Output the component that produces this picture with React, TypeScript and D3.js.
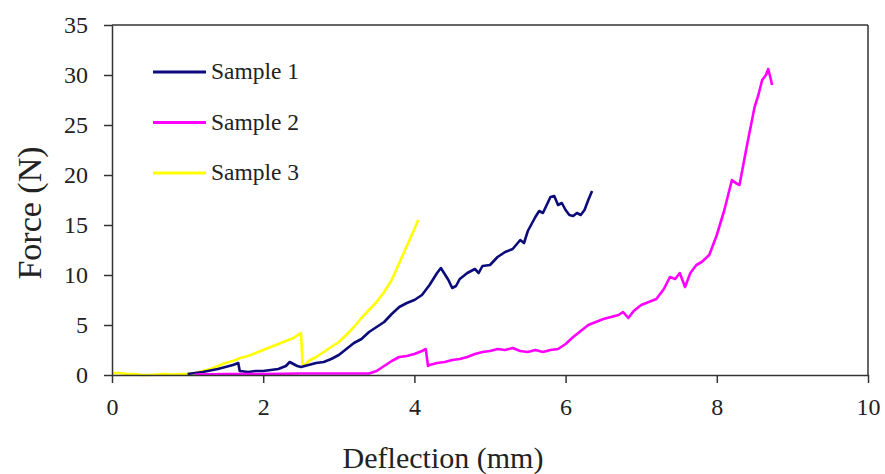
import { useEffect, useRef } from "react";
import * as d3 from "d3";

const sampleNames = ["Sample 1", "Sample 2", "Sample 3"];
const sampleColors = ["#0b0b7c", "#ff00ff", "#ffff00"];

const s1x = [1.0, 1.2, 1.4, 1.5, 1.6, 1.67, 1.69, 1.8, 1.9, 2.0, 2.1, 2.2, 2.3, 2.35, 2.4, 2.45, 2.5, 2.6, 2.7, 2.8, 2.9, 3.0, 3.1, 3.2, 3.3, 3.4, 3.5, 3.6, 3.7, 3.8, 3.9, 4.0, 4.1, 4.2, 4.3, 4.35, 4.4, 4.45, 4.5, 4.55, 4.6, 4.7, 4.8, 4.85, 4.9, 5.0, 5.1, 5.2, 5.3, 5.4, 5.45, 5.5, 5.6, 5.65, 5.7, 5.8, 5.85, 5.9, 5.95, 6.0, 6.05, 6.1, 6.15, 6.2, 6.25, 6.3, 6.35];
const s1y = [0.1, 0.3, 0.6, 0.8, 1.0, 1.2, 0.4, 0.3, 0.4, 0.4, 0.5, 0.6, 0.9, 1.3, 1.1, 0.9, 0.8, 1.0, 1.2, 1.3, 1.6, 2.0, 2.6, 3.2, 3.6, 4.3, 4.8, 5.3, 6.1, 6.8, 7.2, 7.5, 8.0, 9.0, 10.2, 10.7, 10.1, 9.5, 8.7, 8.9, 9.6, 10.2, 10.6, 10.2, 10.9, 11.0, 11.8, 12.3, 12.6, 13.5, 13.2, 14.4, 15.8, 16.4, 16.2, 17.8, 17.9, 17.0, 17.2, 16.5, 16.0, 15.9, 16.2, 16.0, 16.5, 17.5, 18.4];

const s2x = [1.1, 1.5, 2.0, 2.5, 3.0, 3.4, 3.5, 3.6, 3.7, 3.8, 3.9, 4.0, 4.1, 4.15, 4.18, 4.2, 4.3, 4.4, 4.5, 4.6, 4.7, 4.8, 4.9, 5.0, 5.1, 5.2, 5.3, 5.4, 5.5, 5.6, 5.7, 5.8, 5.9, 6.0, 6.1, 6.2, 6.3, 6.4, 6.5, 6.6, 6.7, 6.76, 6.83, 6.9, 7.0, 7.1, 7.2, 7.3, 7.38, 7.45, 7.51, 7.58, 7.65, 7.73, 7.8, 7.9, 8.0, 8.1, 8.2, 8.25, 8.3, 8.4, 8.5, 8.55, 8.6, 8.65, 8.68, 8.72, 8.73];
const s2y = [0.05, 0.1, 0.1, 0.15, 0.15, 0.15, 0.4, 0.9, 1.4, 1.8, 1.9, 2.1, 2.4, 2.6, 0.9, 1.0, 1.2, 1.3, 1.5, 1.6, 1.8, 2.1, 2.3, 2.4, 2.6, 2.5, 2.7, 2.4, 2.3, 2.5, 2.3, 2.5, 2.6, 3.1, 3.8, 4.4, 5.0, 5.3, 5.6, 5.8, 6.0, 6.3, 5.7, 6.4, 7.0, 7.3, 7.6, 8.6, 9.8, 9.6, 10.2, 8.8, 10.2, 11.0, 11.3, 12.0, 14.0, 16.5, 19.5, 19.2, 19.0, 23.0, 26.8, 28.0, 29.5, 30.0, 30.6, 29.4, 29.0];

const s3x = [0, 0.1, 0.2, 0.3, 0.4, 0.5, 0.6, 0.7, 0.8, 0.9, 1.0, 1.1, 1.2, 1.3, 1.4, 1.5, 1.6, 1.7, 1.8, 1.9, 2.0, 2.1, 2.2, 2.3, 2.4, 2.5, 2.52, 2.55, 2.6, 2.7, 2.8, 2.9, 3.0, 3.1, 3.2, 3.3, 3.4, 3.5, 3.6, 3.7, 3.8, 3.9, 4.0, 4.05];
const s3y = [0.2, 0.2, 0.1, 0.1, 0.0, 0.0, 0.05, 0.1, 0.05, 0.1, 0.1, 0.2, 0.4, 0.6, 0.9, 1.2, 1.4, 1.7, 1.9, 2.2, 2.5, 2.8, 3.1, 3.4, 3.7, 4.2, 1.1, 1.0, 1.4, 1.8, 2.3, 2.8, 3.3, 4.0, 4.8, 5.7, 6.5, 7.3, 8.3, 9.5, 11.2, 12.9, 14.6, 15.5];

const xTicks = [0, 2, 4, 6, 8, 10];
const yTicks = [0, 5, 10, 15, 20, 25, 30, 35];

const FONT = "'Liberation Serif', 'Times New Roman', serif";

export default function App() {
  const ref = useRef<SVGSVGElement>(null);

  useEffect(() => {
    const left = 112, right = 868, top = 25, bottom = 375;
    const svg = d3.select(ref.current);
    svg.selectAll("*").remove();

    const x = d3.scaleLinear().domain([0, 10]).range([left, right]);
    const y = d3.scaleLinear().domain([0, 35]).range([bottom, top]);

    // frame on top and right
    svg.append("line").attr("x1", left).attr("x2", right).attr("y1", top).attr("y2", top)
      .attr("stroke", "#333").attr("stroke-width", 1.5);
    svg.append("line").attr("x1", right).attr("x2", right).attr("y1", top).attr("y2", bottom)
      .attr("stroke", "#333").attr("stroke-width", 1.5);

    const series = [
      { xs: s1x, ys: s1y },
      { xs: s2x, ys: s2y },
      { xs: s3x, ys: s3y },
    ];
    const line = d3.line<[number, number]>().x((d) => x(d[0])).y((d) => y(d[1]));
    // draw yellow first so the others sit on top
    [2, 0, 1].forEach((i) => {
      const pts = series[i].xs.map((v, k) => [v, series[i].ys[k]] as [number, number]);
      svg.append("path")
        .datum(pts)
        .attr("fill", "none")
        .attr("stroke", sampleColors[i])
        .attr("stroke-width", 2.6)
        .attr("stroke-linejoin", "round")
        .attr("d", line);
    });

    const xAxis = svg.append("g")
      .attr("transform", `translate(0, ${bottom})`)
      .call(d3.axisBottom(x).tickValues(xTicks).tickSize(8).tickSizeOuter(0).tickPadding(15).tickFormat(d3.format("d")));
    const yAxis = svg.append("g")
      .attr("transform", `translate(${left}, 0)`)
      .call(d3.axisLeft(y).tickValues(yTicks).tickSize(8).tickSizeOuter(0).tickPadding(16).tickFormat(d3.format("d")));

    [xAxis, yAxis].forEach((g) => {
      g.attr("font-family", FONT).attr("font-size", 24);
      g.select(".domain").attr("stroke", "#333").attr("stroke-width", 1.5);
      g.selectAll(".tick line").attr("stroke", "#333").attr("stroke-width", 1.5);
      g.selectAll(".tick text").style("font-family", FONT).style("font-size", "24px").attr("fill", "#222");
    });

    // legend
    sampleNames.forEach((name, i) => {
      const ly = 72 + i * 50.5;
      svg.append("line").attr("x1", 153).attr("x2", 206).attr("y1", ly).attr("y2", ly)
        .attr("stroke", sampleColors[i]).attr("stroke-width", 3);
      svg.append("text").attr("x", 211).attr("y", ly + 7)
        .attr("font-family", FONT).attr("font-size", 23.5).attr("fill", "#222")
        .text(name);
    });

    svg.append("text").attr("x", 443).attr("y", 468).attr("text-anchor", "middle")
      .attr("font-family", FONT).attr("font-size", 30).attr("fill", "#222")
      .text("Deflection (mm)");
    svg.append("text").attr("transform", "translate(41, 213) rotate(-90)").attr("text-anchor", "middle")
      .attr("font-family", FONT).attr("font-size", 34).attr("fill", "#222")
      .text("Force (N)");
  }, []);

  return (
    <svg ref={ref} width={885} height={474}
      style={{ position: "absolute", left: 0, top: 0, background: "#fff" }} />
  );
}
